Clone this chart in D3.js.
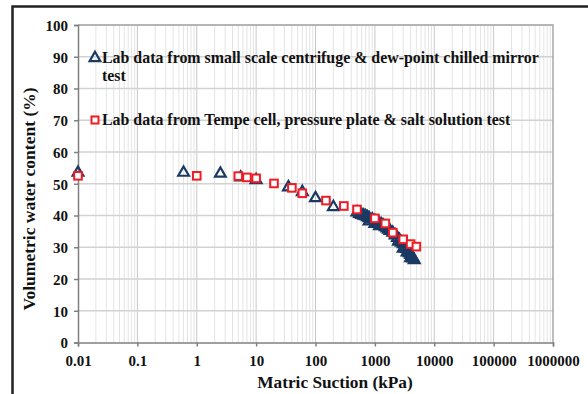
<!DOCTYPE html>
<html>
<head>
<meta charset="utf-8">
<script src="https://cdn.jsdelivr.net/npm/d3@7"></script>
<style>
  body { margin: 0; background: #fff; }
  svg { display: block; }
  text { font-family: "Liberation Serif", "Times New Roman", serif; font-weight: bold; fill: #111; }
</style>
</head>
<body>
<svg id="chart" width="588" height="394"></svg>
<script>
// Matric suction (kPa) and volumetric water content (%) measurements
const centrifugeSuction = [0.01, 0.6, 2.5, 5.5, 10, 35, 60, 100, 200,
  500, 550, 600, 650, 700, 750, 800, 800, 900, 1000, 1000, 1100, 1200, 1200, 1300, 1400, 1500,
  1600, 1700, 1800, 2000, 2200, 2400, 2500, 2600, 2800, 3000, 3000, 3200, 3400, 3500, 3600,
  3800, 4000, 4000, 4200, 4400, 4600];
const centrifugeWater = [53.5, 53.5, 53.2, 52.0, 51.2, 48.9, 47.4, 45.5, 42.7,
  41.0, 40.5, 40.2, 40.0, 39.8, 39.5, 39.2, 38.2, 38.8, 38.3, 37.4, 37.9, 37.5, 36.7, 37.2, 36.8, 36.4,
  36.0, 35.6, 35.2, 34.6, 33.8, 33.0, 31.8, 32.3, 31.5, 31.0, 29.6, 30.2, 29.5, 28.4, 28.8,
  28.2, 27.6, 26.6, 27.0, 26.5, 26.0];

const tempeSuction = [0.01, 1, 5, 7, 10, 20, 40, 60, 150, 300, 500, 1000, 1500, 2000, 3000, 4000, 5000];
const tempeWater = [52.5, 52.5, 52.4, 52.0, 51.7, 50.1, 48.7, 47.0, 44.7, 43.0, 41.9, 39.1, 37.5, 34.6, 32.5, 31.0, 30.2];

const xTickValues = [0.01, 0.1, 1, 10, 100, 1000, 10000, 100000, 1000000];
const xTickLabels = ["0.01", "0.1", "1", "10", "100", "1000", "10000", "100000", "1000000"];
const yTickValues = [0, 10, 20, 30, 40, 50, 60, 70, 80, 90, 100];

const legendLabels = [
  ["Lab data from small scale centrifuge & dew-point chilled mirror", "test"],
  ["Lab data from Tempe cell, pressure plate & salt solution test"]
];

const svg = d3.select("#chart");
const plotLeft = 78, plotRight = 553, plotTop = 25, plotBottom = 342.5;

const x = d3.scaleLog().domain([0.01, 1000000]).range([plotLeft, plotRight]);
const y = d3.scaleLinear().domain([0, 100]).range([plotBottom, plotTop]);

// outer frame
svg.append("path")
  .attr("d", `M12.5,394 L12.5,6.5 L588,6.5`)
  .attr("fill", "none").attr("stroke", "#222").attr("stroke-width", 2.5);

// minor vertical gridlines (2..9 within each decade)
const minor = [];
for (let e = -2; e < 6; e++) for (let m = 2; m <= 9; m++) minor.push(m * Math.pow(10, e));
svg.append("g").selectAll("line").data(minor).join("line")
  .attr("x1", d => x(d)).attr("x2", d => x(d))
  .attr("y1", plotTop).attr("y2", plotBottom)
  .attr("stroke", "#e4e4e4").attr("stroke-width", 1);

// major gridlines
svg.append("g").selectAll("line").data(xTickValues.slice(1, -1)).join("line")
  .attr("x1", d => x(d)).attr("x2", d => x(d))
  .attr("y1", plotTop).attr("y2", plotBottom)
  .attr("stroke", "#c8c8c8").attr("stroke-width", 1);
svg.append("g").selectAll("line").data(yTickValues.slice(1)).join("line")
  .attr("x1", plotLeft).attr("x2", plotRight)
  .attr("y1", d => y(d)).attr("y2", d => y(d))
  .attr("stroke", "#d2d2d2").attr("stroke-width", 1.5);

// plot border (top and right)
svg.append("path")
  .attr("d", `M${plotLeft},${plotTop} L${plotRight},${plotTop} L${plotRight},${plotBottom}`)
  .attr("fill", "none").attr("stroke", "#a8a8a8").attr("stroke-width", 1.5);

// axes
const xAxis = svg.append("g").attr("transform", `translate(0,${plotBottom})`)
  .call(d3.axisBottom(x).tickValues(xTickValues).tickFormat((d, i) => xTickLabels[i]).tickSize(4).tickPadding(6));
const yAxis = svg.append("g").attr("transform", `translate(${plotLeft},0)`)
  .call(d3.axisLeft(y).tickValues(yTickValues).tickSize(4).tickPadding(6));
[xAxis, yAxis].forEach(g => {
  g.select(".domain").attr("stroke", "#808080").attr("stroke-width", 1.5);
  g.selectAll(".tick line").attr("stroke", "#808080").attr("stroke-width", 1.5);
  g.selectAll(".tick text").attr("font-size", 15).attr("font-family", null).attr("fill", "#111");
});
xAxis.selectAll(".tick text").attr("dy", "0.9em");
yAxis.selectAll(".tick text").attr("dy", "0.35em");

// axis titles
svg.append("text")
  .attr("x", 335).attr("y", 388)
  .attr("text-anchor", "middle").attr("font-size", 17.3)
  .text("Matric Suction (kPa)");
svg.append("text")
  .attr("transform", `translate(35,199) rotate(-90)`)
  .attr("text-anchor", "middle").attr("font-size", 17.5)
  .text("Volumetric water content (%)");

// markers
const tri = d3.symbol().type(d3.symbolTriangle).size(50);
const navy = "#1b3a63", red = "#ee1c25";

svg.append("g").selectAll("path").data(centrifugeSuction).join("path")
  .attr("d", tri)
  .attr("transform", (d, i) => `translate(${x(d)},${y(centrifugeWater[i])})`)
  .attr("fill", "none").attr("stroke", navy).attr("stroke-width", 2.2);

svg.append("g").selectAll("rect").data(tempeSuction).join("rect")
  .attr("x", d => x(d) - 3.8).attr("y", (d, i) => y(tempeWater[i]) - 3.8)
  .attr("width", 7.6).attr("height", 7.6)
  .attr("fill", "#fff").attr("stroke", red).attr("stroke-width", 2);

// legend
const lg = svg.append("g");
lg.append("path").attr("d", tri).attr("transform", "translate(95,58)")
  .attr("fill", "none").attr("stroke", navy).attr("stroke-width", 2.2);
lg.append("text").attr("x", 102).attr("y", 63).attr("font-size", 15.9).text(legendLabels[0][0]);
lg.append("text").attr("x", 102).attr("y", 80.5).attr("font-size", 15.9).text(legendLabels[0][1]);
lg.append("rect").attr("x", 91.5).attr("y", 116.5).attr("width", 7).attr("height", 7)
  .attr("fill", "#fff").attr("stroke", red).attr("stroke-width", 2);
lg.append("text").attr("x", 102).attr("y", 125).attr("font-size", 15.9).text(legendLabels[1][0]);
</script>
</body>
</html>
